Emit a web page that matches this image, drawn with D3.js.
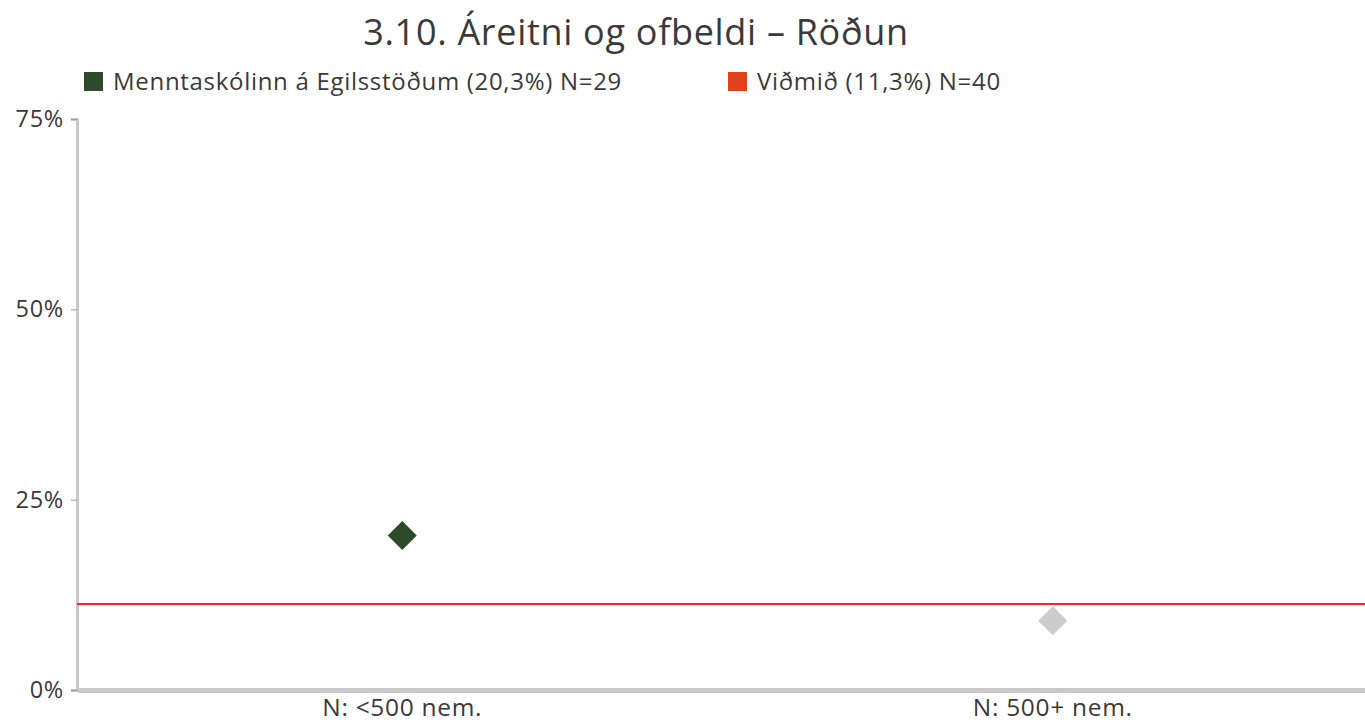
<!DOCTYPE html>
<html>
<head>
<meta charset="utf-8">
<script src="https://cdn.jsdelivr.net/npm/d3@7"></script>
<style>
  html, body { margin: 0; padding: 0; background: #fff; overflow: hidden; }
  svg { display: block; font-family: "Open Sans", "Noto Sans", sans-serif; }
  svg text { letter-spacing: 0.7px; }
</style>
</head>
<body>
<svg id="chart" width="1365" height="722"></svg>
<script>
// Chart data
const title = "3.10. Áreitni og ofbeldi – Röðun";
const categories = ["N: <500 nem.", "N: 500+ nem."];
const schoolName = "Menntaskólinn á Egilsstöðum (20,3%) N=29";
const benchName = "Viðmið (11,3%) N=40";
const pointValues = [20.3, 9.1];            // % per size group
const pointColors = ["#2d4a2b", "#cccccc"];  // school's group highlighted
const benchmark = 11.3;
const yTicks = [0, 25, 50, 75];

const svg = d3.select("#chart");
const margin = { left: 77, right: -13, top: 119, bottom: 32 };
const W = 1365, H = 722;

const x = d3.scaleBand().domain(categories).range([margin.left, W - margin.right]).padding(0);
const y = d3.scaleLinear().domain([0, 75]).range([H - margin.bottom, margin.top]);

// Title
svg.append("text")
  .attr("x", 636).attr("y", 45)
  .attr("text-anchor", "middle")
  .attr("font-size", 36).attr("fill", "#3a3a3a")
  .text(title);

// Legend
const legend = [
  { name: schoolName, color: "#2d4a2b", x: 84 },
  { name: benchName, color: "#e0401c", x: 728 }
];
const lg = svg.append("g").selectAll("g").data(legend).join("g")
  .attr("transform", d => `translate(${d.x},72)`);
lg.append("rect").attr("width", 19).attr("height", 19).attr("fill", d => d.color);
lg.append("text").attr("x", 29).attr("y", 18)
  .attr("font-size", 24).attr("fill", "#3a3a3a")
  .text(d => d.name);

// Y axis
const yAxis = svg.append("g")
  .attr("transform", `translate(${margin.left},0)`)
  .call(d3.axisLeft(y).tickValues(yTicks).tickFormat(d => d + "%").tickSize(6).tickPadding(7));
yAxis.select(".domain").attr("stroke", "#c8c8c8").attr("stroke-width", 3);
yAxis.selectAll(".tick line").attr("stroke", "#999");
yAxis.selectAll(".tick text").attr("font-size", 23.5).attr("fill", "#3a3a3a")
  .attr("font-family", "'Open Sans', sans-serif");

// X axis
const xAxis = svg.append("g")
  .attr("transform", `translate(0,${y(0)})`)
  .call(d3.axisBottom(x).tickSize(0).tickPadding(9));
xAxis.select(".domain").attr("stroke", "#c8c8c8").attr("stroke-width", 5);
xAxis.selectAll(".tick text").attr("font-size", 24.5).attr("fill", "#3a3a3a")
  .attr("font-family", "'Open Sans', sans-serif");

// Benchmark line
svg.append("line")
  .attr("x1", margin.left).attr("x2", W)
  .attr("y1", y(benchmark)).attr("y2", y(benchmark))
  .attr("stroke", "#ff2020").attr("stroke-width", 2);

// Diamond markers
const diamond = d3.symbol().type(d3.symbolSquare).size(420);
svg.append("g").selectAll("path").data(categories).join("path")
  .attr("d", diamond)
  .attr("transform", (c, i) => `translate(${x(c) + x.bandwidth() / 2},${y(pointValues[i])}) rotate(45)`)
  .attr("fill", (c, i) => pointColors[i]);
</script>
</body>
</html>
